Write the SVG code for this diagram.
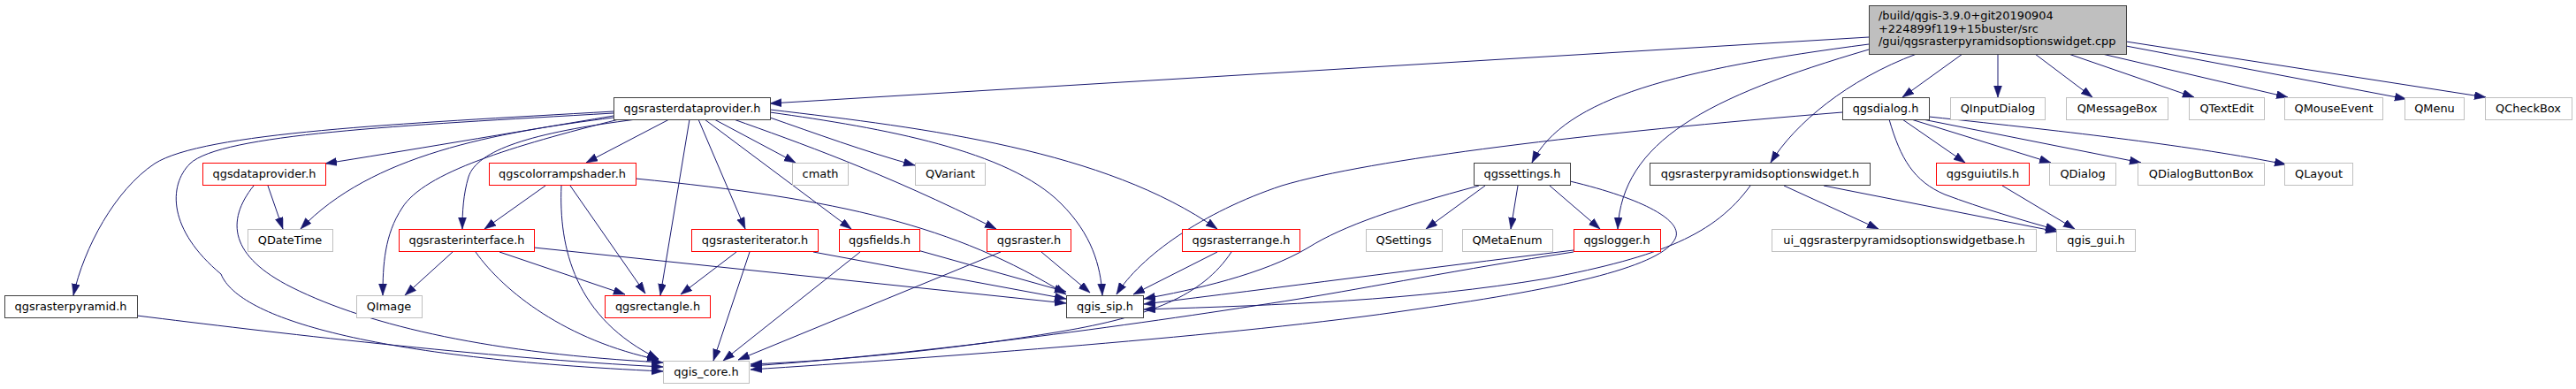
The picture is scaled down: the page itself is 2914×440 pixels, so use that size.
<svg xmlns="http://www.w3.org/2000/svg" width="2914" height="440" viewBox="0 0 2914 440">
<defs>
<style>
text{font-family:"DejaVu Sans","Liberation Sans",sans-serif;font-size:12.9px;fill:#000;text-anchor:middle}
.b{fill:#fff;stroke:#404040;stroke-width:1}
.r{fill:#fff;stroke:#ff0000;stroke-width:1}
.g{fill:#fff;stroke:#bfbfbf;stroke-width:1}
.e path{fill:none;stroke:#191970;stroke-width:1;marker-end:url(#ah)}
</style>
<marker id="ah" markerUnits="userSpaceOnUse" markerWidth="14" markerHeight="10" refX="13" refY="4.5" orient="auto">
<path d="M0,0 L13,4.5 L0,9 z" fill="#191970" stroke="#191970" stroke-width="0.5"/>
</marker>
</defs>
<rect width="2914" height="440" fill="#fff"/>
<g id="connectors" class="e">
<path d="M2114,42 L871,117"/>
<path d="M2114,50 C1900,78 1770,110 1733,184"/>
<path d="M2114,56 C1930,110 1835,160 1830,259"/>
<path d="M2168,61 C2090,90 2030,140 2003,184"/>
<path d="M2220,61 L2152,110"/>
<path d="M2260,61 L2260,110"/>
<path d="M2302,61 L2367,110"/>
<path d="M2340,61 L2482,110"/>
<path d="M2378,61 L2588,110"/>
<path d="M2405,52 L2722,112"/>
<path d="M2405,47 L2812,110"/>
<path d="M694,131 C580,150 450,172 368,185"/>
<path d="M694,126 C450,140 230,150 175,185 C130,215 95,280 83,334"/>
<path d="M694,128 C450,142 250,152 215,185 C190,210 190,260 250,310 C270,360 420,405 750,420"/>
<path d="M694,133 C560,150 420,175 340,259"/>
<path d="M700,135 C580,165 480,195 455,235 C435,265 433,300 433,334"/>
<path d="M720,135 C600,150 540,170 530,200 C524,220 523,240 523,259"/>
<path d="M757,135 L663,184"/>
<path d="M780,135 L747,334"/>
<path d="M790,135 L843,259"/>
<path d="M797,135 L963,259"/>
<path d="M808,135 L900,184"/>
<path d="M830,135 C900,160 1000,195 1127,259"/>
<path d="M871,133 C920,150 980,172 1035,187"/>
<path d="M871,124 C1050,145 1250,170 1377,259"/>
<path d="M871,127 C1000,145 1140,170 1200,230 C1235,265 1245,300 1247,334"/>
<path d="M303,210 L320,259"/>
<path d="M287,210 C255,250 260,290 330,325 C420,370 560,400 750,410"/>
<path d="M155,357 C300,375 550,405 750,415"/>
<path d="M617,210 L548,259"/>
<path d="M645,210 L730,332"/>
<path d="M635,210 C632,280 650,360 745,406"/>
<path d="M719,202 C950,225 1080,255 1206,333"/>
<path d="M512,285 L458,334"/>
<path d="M565,285 L707,333"/>
<path d="M538,285 C570,330 640,385 745,407"/>
<path d="M604,280 L1206,343"/>
<path d="M833,285 L770,333"/>
<path d="M848,285 L807,408"/>
<path d="M920,285 L1206,338"/>
<path d="M973,285 L818,408"/>
<path d="M1038,283 L1206,330"/>
<path d="M1132,285 L835,407"/>
<path d="M1178,285 L1233,331"/>
<path d="M1377,285 L1282,333"/>
<path d="M1393,285 C1360,335 1300,358 1200,375 C1080,395 950,408 849,412"/>
<path d="M1680,210 L1613,259"/>
<path d="M1717,210 L1709,259"/>
<path d="M1753,210 L1810,259"/>
<path d="M1673,210 C1580,235 1520,255 1480,280 C1430,310 1350,328 1294,338"/>
<path d="M1776,205 C1860,225 1905,250 1895,270 C1880,300 1780,325 1600,350 C1400,380 1050,405 849,418"/>
<path d="M1780,283 C1600,305 1450,325 1294,344"/>
<path d="M1780,285 C1650,305 1550,325 1470,338 C1300,365 1050,400 849,414"/>
<path d="M1980,210 C1940,265 1880,290 1750,315 C1600,340 1450,345 1294,350"/>
<path d="M2018,210 L2125,259"/>
<path d="M2063,210 L2327,262"/>
<path d="M2152,135 L2223,184"/>
<path d="M2162,135 L2320,184"/>
<path d="M2175,135 L2422,184"/>
<path d="M2182,132 C2350,150 2480,165 2586,186"/>
<path d="M2137,135 C2150,180 2165,205 2200,220 C2240,235 2290,250 2327,260"/>
<path d="M2084,127 C1800,150 1550,180 1450,210 C1360,240 1290,290 1263,333"/>
<path d="M2265,210 L2347,259"/>
</g>
<g id="n_root"><rect x="2114.5" y="6.5" width="291" height="55" fill="#bfbfbf" stroke="#404040"/>
<text x="2125" y="22" style="text-anchor:start">/build/qgis-3.9.0+git20190904</text>
<text x="2125" y="37" style="text-anchor:start">+224899f119+15buster/src</text>
<text x="2125" y="51" style="text-anchor:start">/gui/qgsrasterpyramidsoptionswidget.cpp</text></g>
<g id="n_rdp"><rect class="b" x="694.5" y="110.5" width="177" height="25"/><text x="783" y="127">qgsrasterdataprovider.h</text></g>
<g id="n_dialog"><rect class="b" x="2084.5" y="110.5" width="98" height="25"/><text x="2133" y="127">qgsdialog.h</text></g>
<g id="n_qinputdialog"><rect class="g" x="2206.5" y="110.5" width="107" height="25"/><text x="2260" y="127">QInputDialog</text></g>
<g id="n_qmessagebox"><rect class="g" x="2337.5" y="110.5" width="115" height="25"/><text x="2395" y="127">QMessageBox</text></g>
<g id="n_qtextedit"><rect class="g" x="2476.5" y="110.5" width="85" height="25"/><text x="2519" y="127">QTextEdit</text></g>
<g id="n_qmouseevent"><rect class="g" x="2584.5" y="110.5" width="111" height="25"/><text x="2640" y="127">QMouseEvent</text></g>
<g id="n_qmenu"><rect class="g" x="2720.5" y="110.5" width="67" height="25"/><text x="2754" y="127">QMenu</text></g>
<g id="n_qcheckbox"><rect class="g" x="2811.5" y="110.5" width="98" height="25"/><text x="2860" y="127">QCheckBox</text></g>
<g id="n_dataprovider"><rect class="r" x="229.5" y="184.5" width="139" height="25"/><text x="299" y="201">qgsdataprovider.h</text></g>
<g id="n_colorramp"><rect class="r" x="553.5" y="184.5" width="166" height="25"/><text x="636" y="201">qgscolorrampshader.h</text></g>
<g id="n_cmath"><rect class="g" x="896.5" y="184.5" width="63" height="25"/><text x="928" y="201">cmath</text></g>
<g id="n_qvariant"><rect class="g" x="1035.5" y="184.5" width="79" height="25"/><text x="1075" y="201">QVariant</text></g>
<g id="n_settings"><rect class="b" x="1667.5" y="184.5" width="109" height="25"/><text x="1722" y="201">qgssettings.h</text></g>
<g id="n_widget"><rect class="b" x="1866.5" y="184.5" width="249" height="25"/><text x="1991" y="201">qgsrasterpyramidsoptionswidget.h</text></g>
<g id="n_guiutils"><rect class="r" x="2190.5" y="184.5" width="105" height="25"/><text x="2243" y="201">qgsguiutils.h</text></g>
<g id="n_qdialog"><rect class="g" x="2318.5" y="184.5" width="75" height="25"/><text x="2356" y="201">QDialog</text></g>
<g id="n_qdialogbuttonbox"><rect class="g" x="2418.5" y="184.5" width="143" height="25"/><text x="2490" y="201">QDialogButtonBox</text></g>
<g id="n_qlayout"><rect class="g" x="2584.5" y="184.5" width="77" height="25"/><text x="2623" y="201">QLayout</text></g>
<g id="n_qdatetime"><rect class="g" x="280.5" y="259.5" width="96" height="25"/><text x="328" y="276">QDateTime</text></g>
<g id="n_rinterface"><rect class="r" x="451.5" y="259.5" width="153" height="25"/><text x="528" y="276">qgsrasterinterface.h</text></g>
<g id="n_riterator"><rect class="r" x="782.5" y="259.5" width="143" height="25"/><text x="854" y="276">qgsrasteriterator.h</text></g>
<g id="n_fields"><rect class="r" x="949.5" y="259.5" width="91" height="25"/><text x="995" y="276">qgsfields.h</text></g>
<g id="n_raster"><rect class="r" x="1116.5" y="259.5" width="95" height="25"/><text x="1164" y="276">qgsraster.h</text></g>
<g id="n_rrange"><rect class="r" x="1337.5" y="259.5" width="133" height="25"/><text x="1404" y="276">qgsrasterrange.h</text></g>
<g id="n_qsettings"><rect class="g" x="1545.5" y="259.5" width="86" height="25"/><text x="1588" y="276">QSettings</text></g>
<g id="n_qmetaenum"><rect class="g" x="1654.5" y="259.5" width="102" height="25"/><text x="1705" y="276">QMetaEnum</text></g>
<g id="n_logger"><rect class="r" x="1780.5" y="259.5" width="98" height="25"/><text x="1829" y="276">qgslogger.h</text></g>
<g id="n_ui"><rect class="g" x="2004.5" y="259.5" width="299" height="25"/><text x="2154" y="276">ui_qgsrasterpyramidsoptionswidgetbase.h</text></g>
<g id="n_gui"><rect class="g" x="2326.5" y="259.5" width="89" height="25"/><text x="2371" y="276">qgis_gui.h</text></g>
<g id="n_pyramid"><rect class="b" x="5.5" y="334.5" width="150" height="25"/><text x="80" y="351">qgsrasterpyramid.h</text></g>
<g id="n_qimage"><rect class="g" x="403.5" y="334.5" width="74" height="25"/><text x="440" y="351">QImage</text></g>
<g id="n_rect"><rect class="r" x="684.5" y="334.5" width="119" height="25"/><text x="744" y="351">qgsrectangle.h</text></g>
<g id="n_sip"><rect class="b" x="1206.5" y="334.5" width="87" height="25"/><text x="1250" y="351">qgis_sip.h</text></g>
<g id="n_core"><rect class="g" x="750.5" y="408.5" width="97" height="25"/><text x="799" y="425">qgis_core.h</text></g>
</svg>
